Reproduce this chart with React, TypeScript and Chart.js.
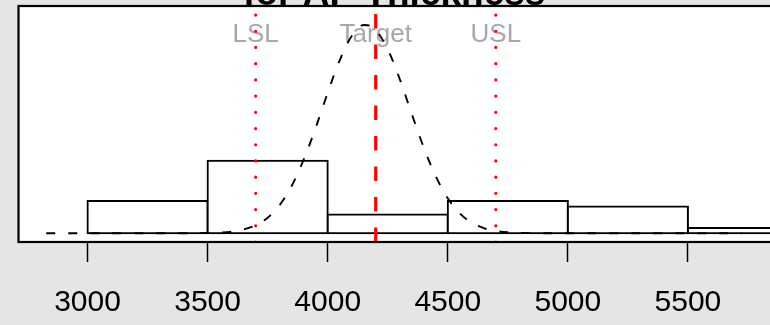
import React, { useEffect, useRef } from "react";
import { Chart, registerables } from "chart.js";

Chart.register(...registerables);

// ---- data ----
const binStarts = [3000, 3500, 4000, 4500, 5000, 5500];
const binWidth = 500;
const counts = [12, 27, 7, 12, 10, 2];

const curveX = [2828, 3300, 3400, 3450, 3500, 3550, 3600, 3650, 3700, 3750, 3800, 3850, 3900, 3950, 4000, 4050, 4100, 4150, 4175, 4200, 4250, 4300, 4350, 4400, 4450, 4500, 4550, 4600, 4650, 4700, 4750, 4800, 4850, 4900, 5000, 5725];
const curveY = [0, 0, 0.01, 0.03, 0.09, 0.25, 0.61, 1.4, 2.96, 5.8, 10.5, 17.6, 27.4, 39.3, 52.3, 64.4, 73.4, 77.5, 77.3, 75.7, 68.5, 57.4, 44.4, 31.9, 21.2, 13.0, 7.4, 3.9, 1.9, 0.86, 0.36, 0.14, 0.05, 0.02, 0, 0];

const specLabels = ["LSL", "Target", "USL"];
const specValues = [3700, 4200, 4700];

const tickValues = [3000, 3500, 4000, 4500, 5000, 5500];
const titleText = "for AP Thickness";

const xMin = 2712.5;
const xMax = 5841.7;
const yMin = -3.25;
const yMax = 84.6;

const FONT = "'Liberation Sans', Arial, Helvetica, sans-serif";

export default function App() {
  const canvasRef = useRef<HTMLCanvasElement | null>(null);

  useEffect(() => {
    const canvas = canvasRef.current;
    if (!canvas) return;

    const decor = {
      id: "decor",
      beforeDraw(chart: any) {
        const { ctx, chartArea } = chart;
        ctx.save();
        ctx.fillStyle = "#E5E5E5";
        ctx.fillRect(0, 0, chart.width, chart.height);
        ctx.fillStyle = "#FFFFFF";
        ctx.fillRect(chartArea.left, chartArea.top, chartArea.right - chartArea.left, chartArea.bottom - chartArea.top);
        ctx.restore();
      },
      beforeDatasetsDraw(chart: any) {
        const { ctx, chartArea } = chart;
        const xs = chart.scales.x;
        ctx.save();
        ctx.font = `26px ${FONT}`;
        ctx.fillStyle = "#A8A8A8";
        ctx.textAlign = "center";
        ctx.textBaseline = "alphabetic";
        specLabels.forEach((lab, i) => {
          ctx.fillText(lab, xs.getPixelForValue(specValues[i]), chartArea.top + 36);
        });
        ctx.restore();
      },
      afterDatasetsDraw(chart: any) {
        const { ctx, chartArea } = chart;
        ctx.save();
        ctx.strokeStyle = "#000";
        ctx.lineWidth = 2.2;
        ctx.strokeRect(chartArea.left, chartArea.top, chartArea.right - chartArea.left + 3, chartArea.bottom - chartArea.top);
        ctx.font = `bold 37px ${FONT}`;
        ctx.fillStyle = "#000";
        ctx.textAlign = "center";
        ctx.textBaseline = "alphabetic";
        ctx.fillText(titleText, (chartArea.left + chartArea.right) / 2, chartArea.top - 1);
        ctx.restore();
      },
    };

    const specDatasets = specValues.map((v, i) => ({
      type: "line" as const,
      label: specLabels[i],
      data: [
        { x: v, y: yMin },
        { x: v, y: yMax },
      ],
      borderColor: "#FF0000",
      borderWidth: i === 1 ? 3.2 : 3.2,
      borderDash: i === 1 ? [14.5, 16] : [0.01, 16.2],
      borderCapStyle: i === 1 ? ("butt" as const) : ("round" as const),
      pointRadius: 0,
      fill: false,
      order: 0,
    }));

    const chart = new Chart(canvas, {
      type: "bar",
      data: {
        datasets: [
          ...specDatasets,
          {
            type: "line" as const,
            label: "normal",
            data: curveX.map((x, i) => ({ x, y: curveY[i] })),
            borderColor: "#000",
            borderWidth: 1.9,
            borderDash: [9, 13],
            pointRadius: 0,
            fill: false,
            cubicInterpolationMode: "monotone" as const,
            order: 1,
          },
          {
            type: "bar" as const,
            label: "hist",
            data: binStarts.map((s, i) => ({ x: s + binWidth / 2, y: counts[i] })),
            backgroundColor: "#FFFFFF",
            borderColor: "#000",
            borderWidth: 2,
            borderSkipped: false,
            inflateAmount: 1,
            barPercentage: 1,
            categoryPercentage: 1,
            grouped: false,
            order: 2,
          } as any,
        ],
      },
      options: {
        animation: false,
        responsive: false,
        devicePixelRatio: 1,
        events: [],
        layout: { padding: { left: 18.5, top: 6, right: 10, bottom: 0 } },
        plugins: {
          legend: { display: false },
          tooltip: { enabled: false },
          title: { display: false },
        },
        scales: {
          x: {
            type: "linear",
            min: xMin,
            max: xMax,
            offset: false,
            afterBuildTicks: (scale: any) => {
              scale.ticks = tickValues.map((v) => ({ value: v }));
            },
            afterFit: (scale: any) => {
              scale.height = 83;
            },
            ticks: {
              autoSkip: false,
              maxRotation: 0,
              minRotation: 0,
              padding: 23,
              color: "#000",
              font: { family: FONT, size: 30 },
              callback: (v: any) => String(v),
            },
            grid: {
              display: true,
              offset: false,
              drawOnChartArea: false,
              drawTicks: true,
              tickLength: 20,
              tickColor: "#000",
              tickWidth: 1.5,
            },
            border: { display: false },
          },
          y: {
            type: "linear",
            display: false,
            min: yMin,
            max: yMax,
          },
        },
      } as any,
      plugins: [decor],
    });

    return () => {
      chart.destroy();
    };
  }, []);

  return (
    <div
      style={{
        position: "fixed",
        left: 0,
        top: 0,
        width: 770,
        height: 325,
        overflow: "hidden",
        background: "#E5E5E5",
      }}
    >
      <canvas ref={canvasRef} width={780} height={325} style={{ display: "block", width: 780, height: 325 }} />
    </div>
  );
}
